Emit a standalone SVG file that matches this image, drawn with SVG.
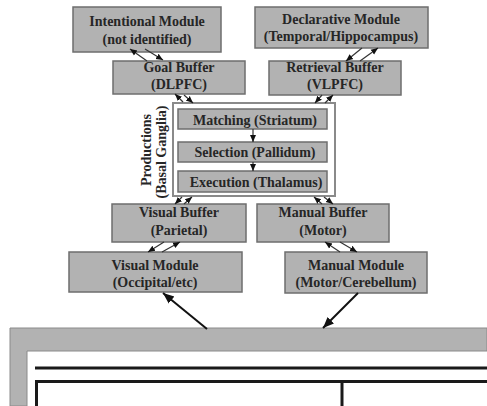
<svg xmlns="http://www.w3.org/2000/svg" width="487" height="406" viewBox="0 0 487 406">
<style>
.box{fill:#b2b2b2;stroke:#6e6e6e;stroke-width:1.5}
.t{font-family:"Liberation Serif","Times New Roman",serif;font-weight:bold;font-size:14px;fill:#262626;text-anchor:middle}
.sa{stroke:#333;stroke-width:1.2;fill:none;marker-end:url(#sh)}
.ba{stroke:#111;stroke-width:2;fill:none;marker-end:url(#bh)}
</style>
<defs>
<marker id="sh" markerUnits="userSpaceOnUse" markerWidth="8" markerHeight="8" refX="7" refY="4" orient="auto">
<path d="M0,1 L7,4 L0,7 Z" fill="#111"/>
</marker>
<marker id="bh" markerUnits="userSpaceOnUse" markerWidth="12" markerHeight="12" refX="11" refY="6" orient="auto">
<path d="M0,1.5 L11,6 L0,10.5 Z" fill="#111"/>
</marker>
</defs>
<rect width="487" height="406" fill="#fff"/>

<g id="intentional">
<rect class="box" x="73" y="7" width="148" height="45"/>
<text class="t" x="147" y="26">Intentional Module</text>
<text class="t" x="147" y="44">(not identified)</text>
</g>
<g id="declarative">
<rect class="box" x="255" y="7" width="173" height="41"/>
<text class="t" x="341" y="24">Declarative Module</text>
<text class="t" x="341" y="41">(Temporal/Hippocampus)</text>
</g>
<g id="goal">
<rect class="box" x="113" y="61" width="132" height="33"/>
<text class="t" x="179" y="72">Goal Buffer</text>
<text class="t" x="179" y="89">(DLPFC)</text>
</g>
<g id="retrieval">
<rect class="box" x="269" y="61" width="132" height="34"/>
<text class="t" x="335" y="72">Retrieval Buffer</text>
<text class="t" x="335" y="89">(VLPFC)</text>
</g>
<g id="productions">
<rect x="173" y="103" width="162" height="93" fill="#fff" stroke="#8a8a8a" stroke-width="2"/>
<text class="t" transform="translate(151,150) rotate(-90)">Productions</text>
<text class="t" transform="translate(166,152) rotate(-90)">(Basal Ganglia)</text>
</g>
<g id="matching">
<rect class="box" x="178" y="109" width="149" height="20"/>
<text class="t" x="255" y="125">Matching (Striatum)</text>
</g>
<g id="selection">
<rect class="box" x="178" y="142" width="149" height="20"/>
<text class="t" x="255" y="157">Selection (Pallidum)</text>
</g>
<g id="execution">
<rect class="box" x="178" y="171" width="149" height="21"/>
<text class="t" x="256" y="187">Execution (Thalamus)</text>
</g>
<g id="visualbuffer">
<rect class="box" x="112" y="204" width="134" height="38"/>
<text class="t" x="179" y="217">Visual Buffer</text>
<text class="t" x="179" y="235">(Parietal)</text>
</g>
<g id="manualbuffer">
<rect class="box" x="257" y="204" width="132" height="38"/>
<text class="t" x="323" y="217">Manual Buffer</text>
<text class="t" x="323" y="235">(Motor)</text>
</g>
<g id="visualmodule">
<rect class="box" x="69" y="252" width="173" height="40"/>
<text class="t" x="155" y="270">Visual Module</text>
<text class="t" x="155" y="287">(Occipital/etc)</text>
</g>
<g id="manualmodule">
<rect class="box" x="285" y="252" width="142" height="41"/>
<text class="t" x="356" y="270">Manual Module</text>
<text class="t" x="356" y="287">(Motor/Cerebellum)</text>
</g>
<g id="environment">
<path d="M10,328 H487 V351 H27 V406 H10 Z" fill="#b2b2b2" stroke="#8a8a8a" stroke-width="1"/>
<line x1="35" y1="368" x2="487" y2="368" stroke="#1a1a1a" stroke-width="3"/>
<path d="M487,381.5 H36.5 V406" fill="none" stroke="#1a1a1a" stroke-width="3"/>
<line x1="342" y1="381" x2="342" y2="406" stroke="#1a1a1a" stroke-width="3"/>
</g>
<g id="connectors">
<line class="sa" x1="147" y1="61" x2="130" y2="49"/>
<line class="sa" x1="145" y1="49" x2="163" y2="60"/>
<line class="sa" x1="183" y1="102" x2="175" y2="94"/>
<line class="sa" x1="184" y1="95" x2="193" y2="103"/>
<line class="sa" x1="362" y1="48" x2="346" y2="61"/>
<line class="sa" x1="360" y1="61" x2="378" y2="48"/>
<line class="sa" x1="322" y1="95" x2="315" y2="103"/>
<line class="sa" x1="325" y1="103" x2="333" y2="95"/>
<line class="sa" x1="253" y1="129" x2="253" y2="142"/>
<line class="sa" x1="253" y1="162" x2="253" y2="171"/>
<line class="sa" x1="182" y1="197" x2="175" y2="204"/>
<line class="sa" x1="184" y1="204" x2="192" y2="197"/>
<line class="sa" x1="322" y1="204" x2="314" y2="197"/>
<line class="sa" x1="324" y1="197" x2="333" y2="204"/>
<line class="sa" x1="164" y1="242" x2="148" y2="252"/>
<line class="sa" x1="162" y1="252" x2="180" y2="242"/>
<line class="sa" x1="340" y1="252" x2="325" y2="242"/>
<line class="sa" x1="340" y1="242" x2="357" y2="252"/>
<line class="ba" x1="207" y1="329" x2="163" y2="293"/>
<line class="ba" x1="358" y1="293" x2="323" y2="328"/>
</g>
</svg>
